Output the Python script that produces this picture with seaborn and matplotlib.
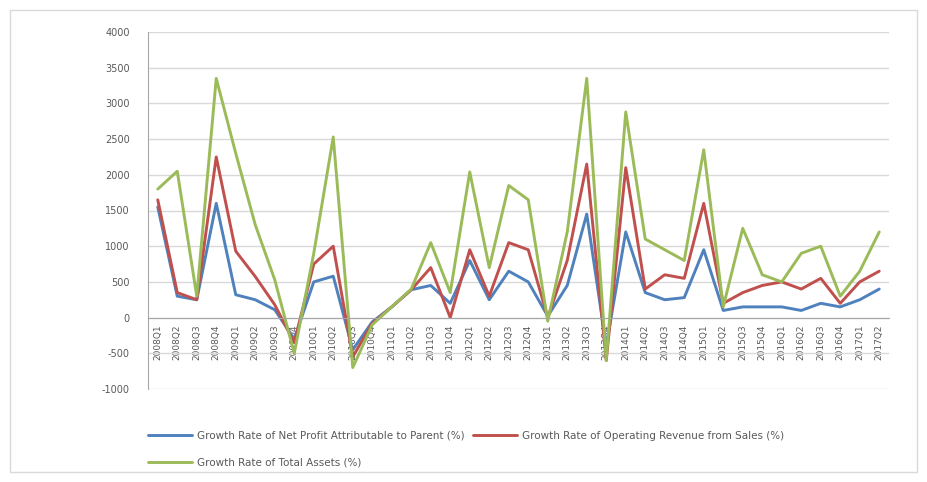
import matplotlib
matplotlib.use("Agg")
import matplotlib.pyplot as plt
import pandas as pd
import seaborn as sns
from matplotlib.patches import Rectangle

# Reporting periods along the category axis
periods = [
    "2008Q1", "2008Q2", "2008Q3", "2008Q4", "2009Q1", "2009Q2", "2009Q3", "2009Q4",
    "2010Q1", "2010Q2", "2010Q3", "2010Q4", "2011Q1", "2011Q2", "2011Q3", "2011Q4",
    "2012Q1", "2012Q2", "2012Q3", "2012Q4", "2013Q1", "2013Q2", "2013Q3", "2013Q4",
    "2014Q1", "2014Q2", "2014Q3", "2014Q4", "2015Q1", "2015Q2", "2015Q3", "2015Q4",
    "2016Q1", "2016Q2", "2016Q3", "2016Q4", "2017Q1", "2017Q2",
]

series_names = [
    "Growth Rate of Net Profit Attributable to Parent (%)",
    "Growth Rate of Operating Revenue from Sales (%)",
    "Growth Rate of Total Assets (%)",
]

net_profit = [1550, 300, 250, 1600, 320, 250, 110, -300, 500, 580,
              -450, -60, 150, 390, 450, 200, 800, 250, 650, 500,
              20, 450, 1450, -400, 1200, 350, 250, 280, 950, 100,
              150, 150, 150, 100, 200, 150, 250, 400]
revenue = [1650, 350, 250, 2250, 930, 575, 180, -350, 750, 1000,
           -550, -80, 150, 390, 700, 0, 950, 300, 1050, 950,
           0, 800, 2150, -600, 2100, 400, 600, 550, 1600, 200,
           350, 450, 500, 400, 550, 200, 500, 650]
total_assets = [1800, 2050, 300, 3350, 2300, 1300, 530, -500, 900, 2530,
                -700, -100, 150, 400, 1050, 350, 2040, 700, 1850, 1650,
                -50, 1200, 3350, -600, 2880, 1100, 950, 800, 2350, 150,
                1250, 600, 500, 900, 1000, 300, 650, 1200]

colors = ["#4F81BD", "#C0504D", "#9BBB59"]

frames = []
for name, vals in zip(series_names, [net_profit, revenue, total_assets]):
    frames.append(pd.DataFrame({"idx": range(len(periods)), "value": vals, "series": name}))
df = pd.concat(frames, ignore_index=True)

sns.set_style("white")
plt.rcParams["font.family"] = ["DejaVu Sans"]
plt.rcParams["axes.unicode_minus"] = False

W, H = 927, 482
fig = plt.figure(figsize=(W / 100, H / 100), dpi=100)
ax = fig.add_axes([148 / W, 1 - 389 / H, (889 - 148) / W, (389 - 32) / H])

sns.lineplot(data=df, x="idx", y="value", hue="series", palette=colors,
             hue_order=series_names, linewidth=2.1, ax=ax, legend=True)

# Category axis crosses the value axis at zero
for side in ["top", "right"]:
    ax.spines[side].set_visible(False)
ax.spines["bottom"].set_position(("data", 0))
ax.spines["bottom"].set_color("#A6A6A6")
ax.spines["bottom"].set_linewidth(0.8)
ax.spines["left"].set_color("#A6A6A6")
ax.spines["left"].set_linewidth(0.8)

ax.set_xlim(-0.5, len(periods) - 0.5)
ax.set_ylim(-1000, 4000)
ax.set_yticks(range(-1000, 4001, 500))
ax.grid(axis="y", color="#D9D9D9", linewidth=1.0)
ax.grid(axis="x", visible=False)
ax.set_axisbelow(True)

ax.set_xticks(range(len(periods)))
ax.set_xticklabels(periods, rotation=90, fontsize=6.5, color="#595959")
ax.tick_params(axis="x", length=0, pad=5)
ax.tick_params(axis="y", length=0, pad=13, labelsize=7, labelcolor="#595959")
ax.set_xlabel("")
ax.set_ylabel("")

handles, labels = ax.get_legend_handles_labels()
ax.get_legend().remove()
order = [0, 2, 1]
fig.legend([handles[i] for i in order], [labels[i] for i in order],
           loc="upper left", bbox_to_anchor=(148 / W, 1 - 431 / H),
           ncol=2, frameon=False, fontsize=7.5, handlelength=4.2, handletextpad=0.5,
           columnspacing=0.8, labelspacing=1.6, borderpad=0, borderaxespad=0,
           labelcolor="#595959")

# Chart area border
fig.patches.append(Rectangle((10 / W, 10 / H), 1 - 20 / W, 1 - 20 / H,
                             transform=fig.transFigure, fill=False,
                             edgecolor="#D9D9D9", linewidth=1.0))

fig.savefig("out.png", dpi=100)
